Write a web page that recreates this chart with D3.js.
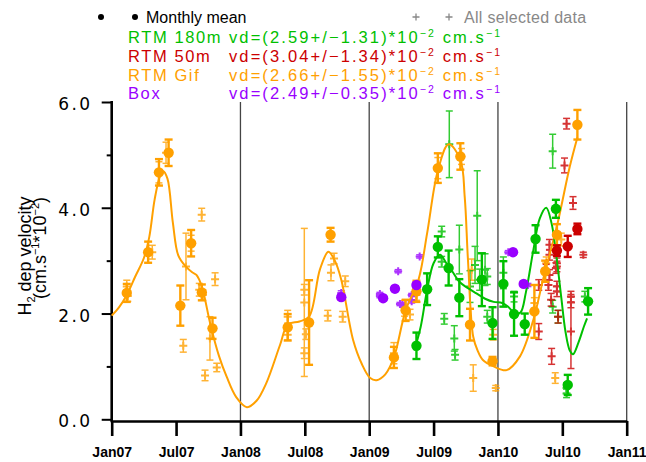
<!DOCTYPE html>
<html>
<head>
<meta charset="utf-8">
<script src="https://cdn.jsdelivr.net/npm/d3@7"></script>
<style>
  body { margin: 0; background: #fff; }
</style>
</head>
<body>
<div id="chart"></div>
<script>
// values are [decimal year, vd (1e-2 cm/s), error]

// RTM Gif (orange)
const gifMean = [
  [2007.117, 2.39, 0.17], [2007.283, 3.16, 0.20], [2007.367, 4.67, 0.25], [2007.442, 5.04, 0.25],
  [2007.533, 2.15, 0.38], [2007.617, 3.33, 0.25], [2007.700, 2.40, 0.15], [2007.783, 1.72, 0.20],
  [2008.367, 1.74, 0.25], [2008.533, 1.83, 0.80], [2008.700, 3.49, 0.13],
  [2009.192, 1.17, 0.20], [2009.283, 2.06, 0.20], [2009.367, 2.42, 0.20], [2009.533, 4.75, 0.28],
  [2009.708, 4.97, 0.25], [2009.783, 1.79, 0.30], [2009.958, 1.10, 0.08],
  [2010.283, 2.04, 0.50], [2010.367, 2.80, 0.20], [2010.458, 3.49, 0.20], [2010.617, 5.57, 0.28]
]
const gifAll = [
  [2007.117, 2.51, 0.12], [2007.125, 2.33, 0.10], [2007.315, 3.16, 0.13], [2007.367, 4.67, 0.20],
  [2007.422, 5.04, 0.20], [2007.556, 1.39, 0.12], [2007.577, 2.89, 0.63], [2007.617, 3.33, 0.15],
  [2007.680, 2.45, 0.12], [2007.699, 3.87, 0.12], [2007.708, 2.35, 0.10], [2007.725, 0.83, 0.10],
  [2007.763, 1.53, 0.41], [2007.803, 2.65, 0.12], [2007.816, 0.98, 0.08],
  [2008.367, 1.94, 0.12], [2008.367, 1.60, 0.10], [2008.496, 2.21, 1.40], [2008.496, 2.45, 0.10],
  [2008.496, 1.25, 0.10], [2008.508, 1.61, 0.10], [2008.678, 1.96, 0.10], [2008.703, 2.77, 0.15],
  [2008.727, 3.04, 0.10], [2008.794, 1.94, 0.10], [2008.814, 2.61, 0.10],
  [2009.192, 1.25, 0.20], [2009.275, 2.10, 0.15], [2009.317, 1.98, 0.10], [2009.367, 2.35, 0.10],
  [2009.533, 4.75, 0.20], [2009.717, 4.97, 0.15], [2009.796, 2.83, 0.20], [2009.808, 0.78, 0.25],
  [2009.963, 1.60, 0.10], [2009.983, 0.59, 0.05],
  [2010.283, 2.20, 0.10], [2010.375, 2.95, 0.12], [2010.445, 0.78, 0.10], [2010.492, 3.40, 0.12]
]
const gifFit = [
  [2007.000, 1.96], [2007.058, 2.12], [2007.117, 2.35], [2007.183, 2.70], [2007.250, 3.05],
  [2007.292, 3.45], [2007.333, 4.15], [2007.375, 4.60], [2007.400, 4.69], [2007.433, 4.55],
  [2007.475, 3.72], [2007.517, 3.10], [2007.575, 2.89], [2007.625, 2.78], [2007.658, 2.73],
  [2007.700, 2.51], [2007.767, 1.79], [2007.833, 1.20], [2007.892, 0.81], [2007.967, 0.42],
  [2008.050, 0.23], [2008.125, 0.35], [2008.200, 0.68], [2008.308, 1.41], [2008.367, 1.79],
  [2008.458, 1.85], [2008.533, 1.94], [2008.617, 2.83], [2008.683, 3.17], [2008.733, 3.00],
  [2008.783, 2.64], [2008.875, 1.50], [2008.942, 1.05], [2009.008, 0.78], [2009.058, 0.74],
  [2009.125, 0.85], [2009.192, 1.17], [2009.283, 2.06], [2009.383, 2.64], [2009.450, 3.52],
  [2009.533, 4.70], [2009.617, 5.20], [2009.708, 4.91], [2009.742, 4.20], [2009.767, 3.02],
  [2009.808, 1.56], [2009.842, 1.30], [2009.883, 1.12], [2009.967, 1.00], [2010.067, 0.93],
  [2010.171, 1.19], [2010.275, 1.88], [2010.350, 2.64], [2010.458, 3.65], [2010.558, 4.78],
  [2010.617, 5.33]
]

// RTM 180m (green)
const rtm180Mean = [
  [2009.367, 1.39, 0.25], [2009.450, 2.46, 0.30], [2009.533, 3.26, 0.20], [2009.617, 2.86, 0.33],
  [2009.700, 2.30, 0.35], [2009.875, 2.64, 0.50], [2009.958, 1.82, 0.30], [2010.042, 2.56, 0.43],
  [2010.125, 1.99, 0.41], [2010.208, 1.80, 0.20], [2010.292, 3.41, 0.26], [2010.450, 3.98, 0.17],
  [2010.542, 0.65, 0.19], [2010.700, 2.23, 0.25]
]
const rtm180All = [
  [2009.563, 3.55, 0.10], [2009.563, 2.98, 0.10], [2009.583, 1.90, 0.10], [2009.622, 5.20, 0.63],
  [2009.661, 1.53, 0.24], [2009.667, 1.22, 0.10], [2009.700, 3.21, 0.46], [2009.783, 2.51, 0.30],
  [2009.822, 2.92, 0.35], [2009.839, 3.85, 0.85], [2009.858, 2.64, 0.20], [2009.900, 2.83, 0.30],
  [2009.917, 1.94, 0.12], [2009.917, 2.70, 0.15], [2010.042, 2.77, 0.30], [2010.125, 2.32, 0.10],
  [2010.425, 5.07, 0.32], [2010.425, 2.13, 0.12], [2010.467, 1.94, 0.12], [2010.533, 0.59, 0.10],
  [2010.533, 0.49, 0.08], [2010.675, 2.32, 0.10]
]
const rtm180Fit = [
  [2009.350, 1.30], [2009.400, 1.75], [2009.450, 2.45], [2009.500, 2.95], [2009.550, 3.11],
  [2009.600, 2.95], [2009.650, 2.78], [2009.700, 2.60], [2009.767, 2.48], [2009.833, 2.38],
  [2009.900, 2.28], [2009.967, 2.22], [2010.033, 2.20], [2010.083, 2.12], [2010.133, 2.00],
  [2010.175, 2.02], [2010.217, 2.40], [2010.275, 3.20], [2010.325, 3.80], [2010.375, 4.00],
  [2010.417, 3.70], [2010.458, 3.00], [2010.492, 2.30], [2010.525, 1.65], [2010.558, 1.30],
  [2010.583, 1.23], [2010.625, 1.45], [2010.667, 1.75], [2010.692, 1.91]
]

// RTM 50m (red)
const rtm50Mean = [
  [2010.458, 3.19, 0.10], [2010.542, 3.27, 0.20], [2010.617, 3.60, 0.10]
]
const rtm50All = [
  [2010.317, 2.54, 0.10], [2010.317, 1.66, 0.15], [2010.375, 2.83, 0.10], [2010.392, 2.54, 0.10],
  [2010.400, 3.30, 0.10], [2010.400, 3.11, 0.10], [2010.400, 2.73, 0.10], [2010.413, 2.26, 0.12],
  [2010.417, 1.19, 0.15], [2010.450, 2.86, 0.10], [2010.458, 2.95, 0.10], [2010.458, 2.89, 0.10],
  [2010.458, 2.51, 0.10], [2010.458, 2.42, 0.10], [2010.467, 1.94, 0.12], [2010.517, 4.80, 0.14],
  [2010.533, 5.59, 0.10], [2010.567, 2.32, 0.10], [2010.567, 2.21, 0.10], [2010.567, 1.66, 0.70],
  [2010.583, 4.09, 0.12], [2010.663, 3.11, 0.05]
]

// Box (purple)
const boxMean = [
  [2008.783, 2.31, 0.04], [2009.108, 2.29, 0.04], [2009.200, 2.47, 0.04], [2009.367, 2.54, 0.04],
  [2010.117, 3.16, 0.04], [2010.200, 2.56, 0.04]
]
const boxAll = [
  [2008.783, 2.39, 0.04], [2009.083, 2.37, 0.03], [2009.083, 2.33, 0.03], [2009.225, 2.80, 0.03],
  [2009.239, 2.18, 0.03], [2009.258, 2.17, 0.03], [2009.330, 2.35, 0.03], [2009.330, 2.23, 0.03],
  [2009.392, 3.08, 0.03], [2010.080, 3.16, 0.03], [2010.233, 2.54, 0.03]
]

// legend and ticks
const legendNames = ['RTM 180m', 'RTM 50m', 'RTM Gif', 'Box']
const legendVd = ['2.59', '3.04', '2.66', '2.49']
const legendSd = ['1.31', '1.34', '1.55', '0.35']
const tickYears = [2007, 2007.5, 2008, 2008.5, 2009, 2009.5, 2010, 2010.5, 2011]
const tickLabels = ['Jan07', 'Jul07', 'Jan08', 'Jul08', 'Jan09', 'Jul09', 'Jan10', 'Jul10', 'Jan11']
const yearLines = [2008, 2009, 2010, 2011]

const colors = { green: '#00c000', red: '#cc0000', orange: '#ffa000', purple: '#9900ff' }
const legendColors = [colors.green, colors.red, colors.orange, colors.purple]

const width = 646, height = 462
const svg = d3.select('#chart').append('svg')
  .attr('width', width).attr('height', height)
  .style('font-family', 'Liberation Sans, Arial, sans-serif')

const x = d3.scaleLinear().domain([2007, 2011]).range([111.7, 626.7])
const y = d3.scaleLinear().domain([0, 6]).range([419.3, 102])
const axisY = 421

// year separators
svg.selectAll('.vline').data(yearLines).join('line')
  .attr('x1', d => x(d)).attr('x2', d => x(d))
  .attr('y1', y(6)).attr('y2', axisY)
  .attr('stroke', '#444').attr('stroke-width', 1.3)

// x axis
const xAxis = d3.axisBottom(x).tickValues(tickYears)
  .tickFormat((d, i) => tickLabels[i]).tickSize(15).tickSizeOuter(0).tickPadding(11)
const gx = svg.append('g').attr('transform', `translate(0,${axisY})`).call(xAxis)
gx.select('.domain').attr('stroke-width', 2.6)
gx.selectAll('.tick line').attr('stroke-width', 2.6)
gx.selectAll('text').attr('font-size', '14px').attr('font-weight', 'bold')
  .attr('font-family', 'Liberation Sans, Arial, sans-serif').attr('fill', '#000')

// y axis
const yAxis = d3.axisLeft(y).tickValues([0, 2, 4, 6]).tickFormat(d3.format('.1f'))
  .tickSize(10).tickSizeOuter(0).tickPadding(9)
const gy = svg.append('g').attr('transform', `translate(${x(2007)},0)`).call(yAxis)
gy.select('.domain').remove()
gy.selectAll('.tick line').attr('stroke-width', 2)
gy.selectAll('text').attr('font-size', '17px').attr('font-family', 'DejaVu Sans, sans-serif')
  .attr('letter-spacing', '2.5px').attr('fill', '#000').attr('dy', '0.45em')
const yMinor = d3.axisLeft(y).tickValues([1, 3, 5]).tickFormat('').tickSize(5).tickSizeOuter(0)
const gy2 = svg.append('g').attr('transform', `translate(${x(2007)},0)`).call(yMinor)
gy2.select('.domain').remove()
gy2.selectAll('.tick line').attr('stroke-width', 2)
svg.append('line')
  .attr('x1', x(2007)).attr('x2', x(2007))
  .attr('y1', y(6) - 1).attr('y2', axisY + 1.3)
  .attr('stroke', '#000').attr('stroke-width', 2.6)

// y title
const t1 = svg.append('text')
  .attr('transform', 'translate(31,256) rotate(-90)')
  .attr('text-anchor', 'middle').attr('font-size', '18px')
t1.append('tspan').text('H')
t1.append('tspan').attr('font-size', '11px').attr('dy', 4).text('2')
t1.append('tspan').attr('dy', -4).text(' dep velocity')
const t2 = svg.append('text')
  .attr('transform', 'translate(46,248) rotate(-90)')
  .attr('text-anchor', 'middle').attr('font-size', '18px')
t2.append('tspan').text('(cm.s')
t2.append('tspan').attr('font-size', '11px').attr('dy', -7).text('−1')
t2.append('tspan').attr('dy', 7).text('*10')
t2.append('tspan').attr('font-size', '11px').attr('dy', -7).text('−2')
t2.append('tspan').attr('dy', 7).text(')')

// drawing helpers
function plusPoints(data, color) {
  const g = svg.append('g').attr('opacity', 0.8)
  const p = g.selectAll('g').data(data).join('g')
    .attr('transform', d => `translate(${x(d[0])},0)`)
  p.append('line').attr('y1', d => y(d[1] - d[2])).attr('y2', d => y(d[1] + d[2]))
    .attr('stroke', color).attr('stroke-width', 1.5)
  p.append('line').attr('x1', -3.5).attr('x2', 3.5)
    .attr('y1', d => y(d[1] + d[2])).attr('y2', d => y(d[1] + d[2]))
    .attr('stroke', color).attr('stroke-width', 1.5)
  p.append('line').attr('x1', -3.5).attr('x2', 3.5)
    .attr('y1', d => y(d[1] - d[2])).attr('y2', d => y(d[1] - d[2]))
    .attr('stroke', color).attr('stroke-width', 1.5)
  p.append('path').attr('d', d => `M-4,${y(d[1])}H4M0,${y(d[1]) - 4}V${y(d[1]) + 4}`)
    .attr('stroke', color).attr('stroke-width', 2)
}

function meanPoints(data, color) {
  const g = svg.append('g')
  const p = g.selectAll('g').data(data).join('g')
    .attr('transform', d => `translate(${x(d[0])},0)`)
  p.append('line').attr('y1', d => y(d[1] - d[2])).attr('y2', d => y(d[1] + d[2]))
    .attr('stroke', color).attr('stroke-width', 2.4)
  p.append('line').attr('x1', -4).attr('x2', 4)
    .attr('y1', d => y(d[1] + d[2])).attr('y2', d => y(d[1] + d[2]))
    .attr('stroke', color).attr('stroke-width', 2.4)
  p.append('line').attr('x1', -4).attr('x2', 4)
    .attr('y1', d => y(d[1] - d[2])).attr('y2', d => y(d[1] - d[2]))
    .attr('stroke', color).attr('stroke-width', 2.4)
  p.append('circle').attr('cy', d => y(d[1])).attr('r', 5.2).attr('fill', color)
}

const fitLine = d3.line().x(d => x(d[0])).y(d => y(d[1])).curve(d3.curveCatmullRom.alpha(0.5))
function fit(data, color) {
  svg.append('path').datum(data).attr('d', fitLine)
    .attr('fill', 'none').attr('stroke', color).attr('stroke-width', 2)
}

plusPoints(gifAll, colors.orange)
plusPoints(rtm180All, colors.green)
plusPoints(rtm50All, colors.red)
plusPoints(boxAll, colors.purple)
fit(gifFit, colors.orange)
fit(rtm180Fit, colors.green)
meanPoints(gifMean, colors.orange)
meanPoints(rtm180Mean, colors.green)
meanPoints(rtm50Mean, colors.red)
meanPoints(boxMean, colors.purple)

// legend
svg.append('circle').attr('cx', 101).attr('cy', 17).attr('r', 3).attr('fill', '#000')
svg.append('circle').attr('cx', 135).attr('cy', 17).attr('r', 3).attr('fill', '#000')
svg.append('text').attr('x', 146).attr('y', 23).attr('font-size', '16px').text('Monthly mean')
svg.selectAll('.lplus').data([416, 449]).join('path')
  .attr('d', d => `M${d - 3.5},17H${d + 3.5}M${d},13.5V20.5`)
  .attr('stroke', '#888').attr('stroke-width', 1.3)
svg.append('text').attr('x', 464).attr('y', 23).attr('font-size', '16px')
  .attr('fill', '#888').attr('letter-spacing', '0.3px').text('All selected data')

legendNames.forEach((name, i) => {
  const yy = 43 + i * 18.8
  svg.append('text').attr('x', 128).attr('y', yy).attr('font-size', '16.5px')
    .attr('letter-spacing', '1.6px').attr('fill', legendColors[i]).text(name)
  const t = svg.append('text').attr('x', 229).attr('y', yy).attr('font-size', '16.5px')
    .attr('letter-spacing', '2.1px').attr('fill', legendColors[i])
  t.append('tspan').text(`vd=(${legendVd[i]}+/−${legendSd[i]})*10`)
  t.append('tspan').attr('font-size', '10.5px').attr('dy', -6).text('−2')
  t.append('tspan').attr('dy', 6).text(' cm.s')
  t.append('tspan').attr('font-size', '10.5px').attr('dy', -6).text('−1')
})
</script>
</body>
</html>
